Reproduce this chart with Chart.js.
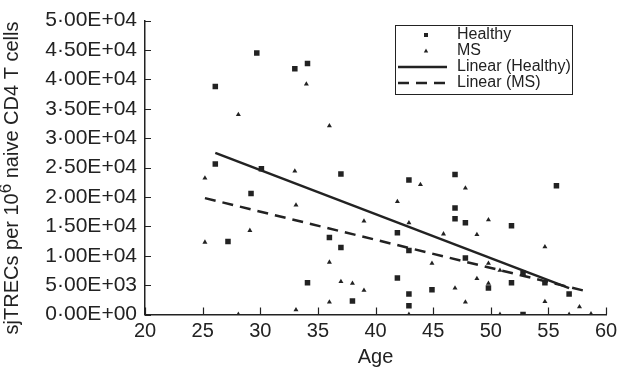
<!DOCTYPE html>
<html>
<head>
<meta charset="utf-8">
<script src="https://cdn.jsdelivr.net/npm/chart.js@4"></script>
<style>
  body { margin: 0; background: #fff; }
  #wrap { width: 629px; height: 370px; position: relative; }
</style>
</head>
<body>
<div id="wrap"><canvas id="trecChart"></canvas></div>
<script>
// Healthy donors: age and sjTRECs per 10^6 naive CD4 T cells
const healthyAge = [29.7, 33.0, 34.1, 26.1, 26.1, 30.1, 37.0, 29.2, 27.2, 36.0, 37.0, 34.1, 38.0,
  42.9, 46.9, 55.7, 46.9, 46.9, 47.8, 51.8, 41.9, 42.9, 47.8, 41.9, 52.8, 54.7, 51.8, 49.8,
  44.9, 42.9, 56.8, 42.9, 52.8];
const healthyTrec = [44500, 41800, 42700, 38800, 25600, 24800, 23900, 20600, 12400, 13100, 11400, 5400, 2300,
  22900, 23800, 21900, 18100, 16300, 15600, 15100, 13900, 10900, 9600, 6200, 7000, 5400, 5400, 4500,
  4200, 3500, 3500, 1500, 0];

// MS patients
const msAge = [34.0, 28.1, 36.0, 33.0, 25.2, 25.2, 29.1, 33.1, 36.0, 37.0, 38.0, 36.0, 33.1, 28.1,
  43.9, 47.8, 41.9, 39.0, 42.9, 49.8, 45.9, 48.8, 54.7, 44.9, 49.8, 50.8, 48.8, 49.8, 46.9,
  39.0, 47.8, 54.7, 57.7, 42.9, 50.8, 56.8, 58.7];
const msTrec = [39200, 34000, 32100, 24400, 23200, 12300, 14300, 18600, 8900, 5600, 5300, 2100, 800, 0,
  22100, 21500, 19200, 15900, 15600, 16100, 13700, 13600, 11500, 8700, 8700, 7500, 6100, 5300, 4500,
  4100, 2100, 2200, 1300, 0, 0, 0, 100];

// trend line end points
const healthyFitAge = [26.1, 56.8];
const healthyFitTrec = [27500, 4500];
const msFitAge = [25.2, 58.2];
const msFitTrec = [19800, 4000];

const INK = '#222';
const FONT = '"Liberation Sans", Arial, Helvetica, sans-serif';

function toPoints(xs, ys) {
  return xs.map((x, i) => ({ x: x, y: ys[i] }));
}

// 5.00E+04 style with a middle dot
function sciLabel(v) {
  const parts = Number(v).toExponential(2).split('e');
  const exp = parseInt(parts[1], 10);
  const sign = exp < 0 ? '-' : '+';
  return parts[0].replace('.', '\u00b7') + 'E' + sign + String(Math.abs(exp)).padStart(2, '0');
}

// inward tick marks on both axes
const innerTicks = {
  id: 'innerTicks',
  afterDraw(chart) {
    const ctx = chart.ctx;
    const area = chart.chartArea;
    const xs = chart.scales.x;
    const ys = chart.scales.y;
    ctx.save();
    ctx.strokeStyle = INK;
    ctx.lineWidth = 1.2;
    ctx.beginPath();
    xs.ticks.forEach(t => {
      const px = Math.round(xs.getPixelForValue(t.value)) + 0.5;
      ctx.moveTo(px, area.bottom);
      ctx.lineTo(px, area.bottom - 7);
    });
    ys.ticks.forEach(t => {
      const py = Math.round(ys.getPixelForValue(t.value)) + 0.5;
      ctx.moveTo(area.left, py);
      ctx.lineTo(area.left + 6, py);
    });
    ctx.stroke();
    ctx.restore();
  }
};

// y title with a real superscript
const yTitle = {
  id: 'yTitle',
  afterDraw(chart) {
    const ctx = chart.ctx;
    const a = 'sjTRECs per 10';
    const sup = '6';
    const b = ' naive CD4 T cells';
    ctx.save();
    ctx.fillStyle = INK;
    ctx.translate(18, 178);
    ctx.rotate(-Math.PI / 2);
    ctx.textBaseline = 'alphabetic';
    ctx.font = '20px ' + FONT;
    const wa = ctx.measureText(a).width;
    const wb = ctx.measureText(b).width;
    ctx.font = '17px ' + FONT;
    const ws = ctx.measureText(sup).width;
    let x = -(wa + ws + wb) / 2;
    ctx.font = '20px ' + FONT;
    ctx.fillText(a, x, 0);
    x += wa;
    ctx.font = '17px ' + FONT;
    ctx.fillText(sup, x, -7);
    x += ws;
    ctx.font = '20px ' + FONT;
    ctx.fillText(b, x, 0);
    ctx.restore();
  }
};

// boxed legend inside the plot, top right
const boxLegend = {
  id: 'boxLegend',
  afterDraw(chart) {
    const ctx = chart.ctx;
    const left = 395.5, top = 25.5, w = 177, h = 69;
    const rows = [35, 51, 67, 83];
    ctx.save();
    ctx.fillStyle = '#fff';
    ctx.fillRect(left, top, w, h);
    ctx.strokeStyle = INK;
    ctx.lineWidth = 1;
    ctx.strokeRect(left, top, w, h);
    chart.data.datasets.forEach((ds, i) => {
      const cy = rows[i];
      if (ds.type === 'line') {
        ctx.strokeStyle = ds.borderColor;
        ctx.lineWidth = ds.borderWidth;
        ctx.setLineDash(ds.borderDash || []);
        ctx.beginPath();
        ctx.moveTo(398, cy);
        ctx.lineTo(447, cy);
        ctx.stroke();
        ctx.setLineDash([]);
      } else {
        ctx.fillStyle = ds.backgroundColor;
        if (ds.pointStyle === 'rect') {
          ctx.fillRect(424, cy - 2, 4, 4);
        } else {
          ctx.beginPath();
          ctx.moveTo(426, cy - 2.5);
          ctx.lineTo(428.2, cy + 1.5);
          ctx.lineTo(423.8, cy + 1.5);
          ctx.closePath();
          ctx.fill();
        }
      }
      ctx.fillStyle = INK;
      ctx.font = '16px ' + FONT;
      ctx.textBaseline = 'middle';
      ctx.fillText(ds.label, 457, cy);
    });
    ctx.restore();
  }
};

const ctx = document.getElementById('trecChart').getContext('2d');
new Chart(ctx, {
  type: 'scatter',
  data: {
    datasets: [
      {
        label: 'Healthy',
        data: toPoints(healthyAge, healthyTrec),
        pointStyle: 'rect',
        pointRadius: 3.9,
        backgroundColor: INK,
        borderColor: INK,
        borderWidth: 0
      },
      {
        label: 'MS',
        data: toPoints(msAge, msTrec),
        pointStyle: 'triangle',
        pointRadius: 2.9,
        backgroundColor: INK,
        borderColor: INK,
        borderWidth: 0
      },
      {
        type: 'line',
        label: 'Linear (Healthy)',
        data: toPoints(healthyFitAge, healthyFitTrec),
        borderColor: INK,
        borderWidth: 2.5,
        pointRadius: 0,
        fill: false
      },
      {
        type: 'line',
        label: 'Linear (MS)',
        data: toPoints(msFitAge, msFitTrec),
        borderColor: INK,
        borderWidth: 2.5,
        borderDash: [11, 7],
        pointRadius: 0,
        fill: false
      }
    ]
  },
  options: {
    responsive: true,
    maintainAspectRatio: false,
    animation: false,
    layout: { padding: { left: 0, right: 23, top: 15.5, bottom: 0 } },
    plugins: {
      legend: { display: false },
      tooltip: { enabled: false }
    },
    scales: {
      x: {
        type: 'linear',
        min: 20,
        max: 60,
        ticks: { stepSize: 5, color: INK, padding: 5, font: { family: FONT, size: 20 } },
        grid: { drawOnChartArea: false, drawTicks: false },
        border: { display: true, color: INK, width: 1.5 },
        title: { display: true, text: 'Age', color: INK, padding: { top: 0, bottom: 1 }, font: { family: FONT, size: 20 } },
        afterFit(scale) { scale.height = 55.5; }
      },
      y: {
        min: 0,
        max: 50000,
        ticks: { stepSize: 5000, color: INK, padding: 8, font: { family: FONT, size: 21 }, callback: sciLabel },
        grid: { drawOnChartArea: false, drawTicks: false },
        border: { display: true, color: INK, width: 1.5 },
        afterFit(scale) { scale.width = 145; }
      }
    }
  },
  plugins: [innerTicks, yTitle, boxLegend]
});
</script>
</body>
</html>
